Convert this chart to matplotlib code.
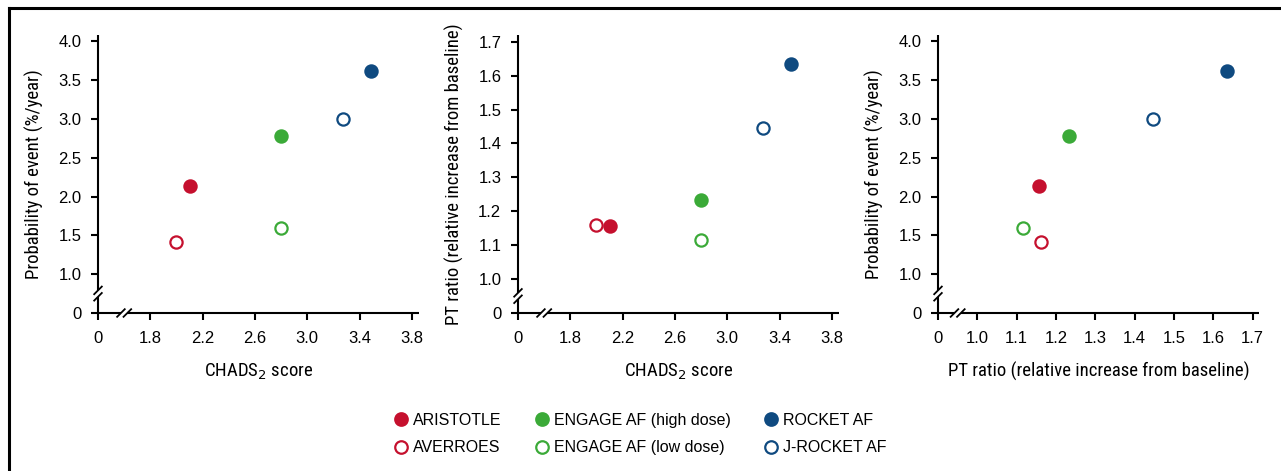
import matplotlib
matplotlib.use("Agg")
import matplotlib.pyplot as plt
from matplotlib.lines import Line2D
from matplotlib import font_manager as fm

# ---------------- data ----------------
studies = ["ARISTOTLE", "AVERROES", "ENGAGE AF (high dose)",
           "ENGAGE AF (low dose)", "ROCKET AF", "J-ROCKET AF"]
chads2_score = [2.10, 2.00, 2.80, 2.80, 3.49, 3.27]
event_prob = [2.13, 1.41, 2.78, 1.59, 3.61, 3.00]
pt_ratio = [1.157, 1.161, 1.232, 1.115, 1.634, 1.447]
filled = [True, False, True, False, True, False]
study_colors = ["#C5102E", "#C5102E", "#3BAA38", "#3BAA38", "#0F4A80", "#0F4A80"]

chads_ticks = [1.8, 2.2, 2.6, 3.0, 3.4, 3.8]
chads_labels = ["1.8", "2.2", "2.6", "3.0", "3.4", "3.8"]
event_ticks = [1.0, 1.5, 2.0, 2.5, 3.0, 3.5, 4.0]
event_labels = ["1.0", "1.5", "2.0", "2.5", "3.0", "3.5", "4.0"]
pt_ticks = [1.0, 1.1, 1.2, 1.3, 1.4, 1.5, 1.6, 1.7]
pt_labels = ["1.0", "1.1", "1.2", "1.3", "1.4", "1.5", "1.6", "1.7"]

# ---------------- fonts ----------------
TICK_FONT = ["Liberation Sans", "DejaVu Sans"]
plt.rcParams["font.family"] = TICK_FONT

# find a condensed face for the axis titles
label_family, label_stretch, label_path = "Liberation Sans", "normal", None
for fam, stretch in [("Liberation Sans Narrow", "normal"), ("Roboto Condensed", "normal"),
                     ("Open Sans Condensed", "normal"), ("Noto Sans", "condensed"),
                     ("Open Sans", "condensed"), ("Roboto", "condensed"),
                     ("DejaVu Sans", "condensed")]:
    try:
        p = fm.findfont(fm.FontProperties(family=fam, stretch=stretch),
                        fallback_to_default=False)
    except Exception:
        continue
    low = p.lower()
    if ("narrow" in low or "condensed" in low or "cond" in low):
        label_family, label_stretch, label_path = fam, stretch, p
        break

if label_path is not None:
    LABEL_PROPS = fm.FontProperties(fname=label_path)
    lab_name = LABEL_PROPS.get_name()
else:
    LABEL_PROPS = fm.FontProperties(family="Liberation Sans")
    lab_name = "Liberation Sans"

plt.rcParams["mathtext.fontset"] = "custom"
plt.rcParams["mathtext.rm"] = lab_name
plt.rcParams["mathtext.it"] = lab_name

W, H = 1281, 471
fig = plt.figure(figsize=(W / 100, H / 100), dpi=100)

# figure frame (top and left rules)
fig.add_artist(Line2D([8.5 / W, 8.5 / W], [0, 1 - 7.5 / H], color="black", lw=2.2,
                      transform=fig.transFigure, solid_capstyle="projecting"))
fig.add_artist(Line2D([8.5 / W, 1], [1 - 7.5 / H, 1 - 7.5 / H], color="black", lw=2.2,
                      transform=fig.transFigure, solid_capstyle="projecting"))

LABEL_SIZE = 13.5 if label_path is not None else 12


def make_panel(left, right, bottom, top, x, y, xlim, xzero, xticks, xlabels,
               ylim, yzero, yticks, ylabels, xlabel, ylabel):
    ax = fig.add_axes([left / W, 1 - bottom / H, (right - left) / W, (bottom - top) / H])
    for i in range(len(x)):
        ax.plot(x[i], y[i], "o", ms=8.8,
                mfc=study_colors[i] if filled[i] else "white",
                mec=study_colors[i], mew=1.6, zorder=3, clip_on=False)
    ax.set_xlim(*xlim)
    ax.set_ylim(*ylim)
    ax.set_xticks([xzero] + xticks)
    ax.set_xticklabels(["0"] + xlabels)
    ax.set_yticks([yzero] + yticks)
    ax.set_yticklabels(["0"] + ylabels)
    for s in ax.spines.values():
        s.set_visible(False)
    ax.tick_params(axis="both", direction="out", length=5, width=1.5,
                   labelsize=12, colors="black")
    ax.tick_params(axis="x", pad=8)
    ax.tick_params(axis="y", pad=7)
    fp = LABEL_PROPS.copy()
    fp.set_size(LABEL_SIZE)
    ax.set_xlabel(xlabel, fontproperties=fp, labelpad=11)
    ax.set_ylabel(ylabel, fontproperties=fp, labelpad=10)

    axw = right - left
    axh = bottom - top
    fx = ((xzero + xticks[0]) / 2 - xlim[0]) / (xlim[1] - xlim[0])
    fy = ((yzero + yticks[0]) / 2 - ylim[0]) / (ylim[1] - ylim[0])
    gx = 3.2 / axw
    gy = 3.2 / axh
    kw = dict(color="black", lw=1.5, transform=ax.transAxes, clip_on=False,
              solid_capstyle="butt")
    # x axis with break
    ax.plot([0, fx - gx], [0, 0], **kw)
    ax.plot([fx + gx, 1], [0, 0], **kw)
    # y axis with break
    ax.plot([0, 0], [0, fy - gy], **kw)
    ax.plot([0, 0], [fy + gy, 1], **kw)
    sx, sy = 3.8 / axw, 3.8 / axh
    kw2 = dict(color="black", lw=1.3, transform=ax.transAxes, clip_on=False)
    for c in (fx - gx, fx + gx):
        ax.plot([c - sx, c + sx], [-sy, sy], **kw2)
    for c in (fy - gy, fy + gy):
        ax.plot([-sx, sx], [c - sy, c + sy], **kw2)
    return ax


make_panel(98, 419, 313, 35, chads2_score, event_prob,
           (1.4, 3.855), 1.4, chads_ticks, chads_labels,
           (0.5, 4.08), 0.5, event_ticks, event_labels,
           r"CHADS$_{2}$ score", "Probability of event (%/year)")
make_panel(518, 839, 313, 35, chads2_score, pt_ratio,
           (1.4, 3.855), 1.4, chads_ticks, chads_labels,
           (0.9, 1.72), 0.9, pt_ticks, pt_labels,
           r"CHADS$_{2}$ score", "PT ratio (relative increase from baseline)")
make_panel(938, 1259, 313, 35, pt_ratio, event_prob,
           (0.9, 1.716), 0.9, pt_ticks, pt_labels,
           (0.5, 4.08), 0.5, event_ticks, event_labels,
           "PT ratio (relative increase from baseline)", "Probability of event (%/year)")

handles = [Line2D([], [], ls="none", marker="o", ms=9,
                  mfc=study_colors[i] if filled[i] else "white",
                  mec=study_colors[i], mew=1.6) for i in range(len(studies))]
fig.legend(handles, studies, loc="center", bbox_to_anchor=(0.5, 1 - 434 / H),
           ncol=3, frameon=False, fontsize=11.5, handlelength=0.8,
           handletextpad=0.35, columnspacing=2.1, labelspacing=0.8)

fig.savefig("out.png", dpi=100)
